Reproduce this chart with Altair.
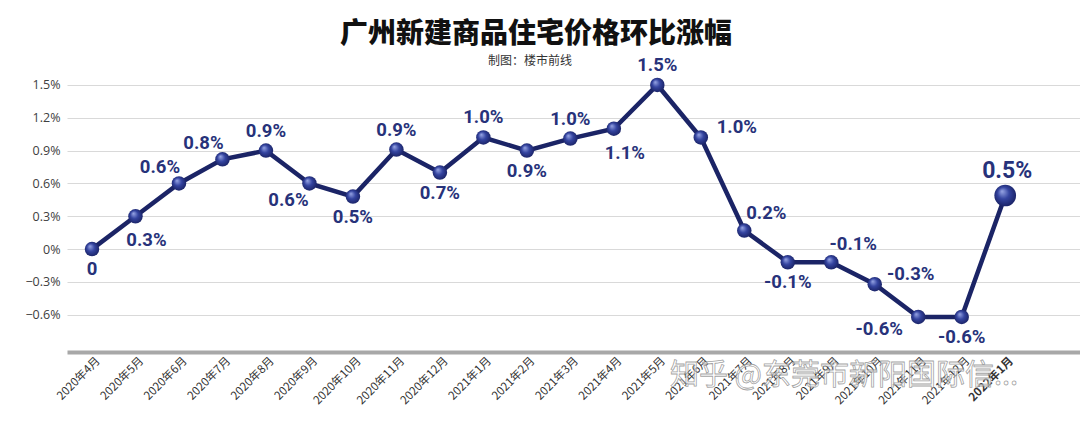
import altair as alt
import pandas as pd

months = ["2020年4月", "2020年5月", "2020年6月", "2020年7月", "2020年8月", "2020年9月",
          "2020年10月", "2020年11月", "2020年12月", "2021年1月", "2021年2月", "2021年3月",
          "2021年4月", "2021年5月", "2021年6月", "2021年7月", "2021年8月", "2021年9月",
          "2021年10月", "2021年11月", "2021年12月", "2022年1月"]
values = [0, 0.3, 0.6, 0.82, 0.9, 0.6, 0.48, 0.91, 0.7, 1.02, 0.9, 1.01,
          1.1, 1.5, 1.02, 0.17, -0.12, -0.12, -0.32, -0.62, -0.62, 0.49]
labels = ["0", "0.3%", "0.6%", "0.8%", "0.9%", "0.6%", "0.5%", "0.9%", "0.7%", "1.0%", "0.9%", "1.0%",
          "1.1%", "1.5%", "1.0%", "0.2%", "-0.1%", "-0.1%", "-0.3%", "-0.6%", "-0.6%", "0.5%"]
placement = ["below", "belowright", "aboveleft", "aboveleft", "above", "belowleft", "below", "above",
             "below", "above", "below", "above", "belowright", "above", "right", "aboveright",
             "below", "aboveright", "right", "left", "below", "big"]
y_ticks = [-0.6, -0.3, 0, 0.3, 0.6, 0.9, 1.2, 1.5]
title_text = "广州新建商品住宅价格环比涨幅"
subtitle_text = "制图：楼市前线"
watermark_text = "知乎 @东莞市新阳国际信..."

df = pd.DataFrame({
    "i": list(range(len(months))),
    "month": months,
    "value": values,
    "label": labels,
    "place": placement,
})

NAVY = "#1b2466"
LABEL = "#27327a"
offsets = {
    "above": (0, -20), "below": (0, 20), "aboveleft": (-19, -16), "belowleft": (-21, 17),
    "belowright": (11, 24), "aboveright": (22, -18), "right": (36, -10), "left": (-39, 12),
    "big": (2, -24),
}

month_js = "[" + ",".join("'" + m + "'" for m in months) + "]"

x_enc = alt.X("i:Q",
              scale=alt.Scale(domain=[-0.575, 22.72], nice=False, zero=False),
              axis=alt.Axis(values=list(range(len(months))), tickCount=40,
                            labelExpr=month_js + "[datum.value]",
                            labelAngle=-45, labelAlign="right", labelBaseline="middle",
                            labelFontSize=11.5, labelColor="#333333", labelFont="Noto Sans CJK SC",
                            labelFontWeight=alt.expr("datum.value == 21 ? 'bold' : 'normal'"),
                            labelOverlap=False, labelPadding=7, labelOffset=6,
                            ticks=False, grid=False,
                            domainColor="#a8a8a8", domainWidth=4, title=None))
y_enc = alt.Y("value:Q",
              scale=alt.Scale(domain=[-0.94, 1.6], nice=False, zero=False),
              axis=alt.Axis(values=y_ticks, tickCount=20,
                            labelExpr="datum.value == 0 ? '0%' : format(datum.value/100, '.1%')",
                            labelFontSize=12.5, labelColor="#404040", labelFont="Open Sans",
                            labelOverlap=False, labelPadding=7, ticks=False, domain=False,
                            gridColor="#d9d9d9", gridWidth=1.2, title=None))

base = alt.Chart(df)

line = base.mark_line(color=NAVY, strokeWidth=4.5).encode(x=x_enc, y=y_enc)

sphere = alt.RadialGradient(
    gradient="radial",
    stops=[alt.GradientStop(offset=0, color="#9aa8e6"),
           alt.GradientStop(offset=0.45, color="#3444a0"),
           alt.GradientStop(offset=1, color="#141b58")],
    x1=0.35, y1=0.3, r1=0, x2=0.5, y2=0.5, r2=0.6)

pts = base.transform_filter("datum.i < 21").mark_point(
    shape="circle", filled=True, fill=sphere, size=210, opacity=1, strokeWidth=0
).encode(x="i:Q", y="value:Q")
pt_big = base.transform_filter("datum.i == 21").mark_point(
    shape="circle", filled=True, fill=sphere, size=470, opacity=1, strokeWidth=0
).encode(x="i:Q", y="value:Q")

text_layers = []
for name, (dx, dy) in offsets.items():
    fs = 23 if name == "big" else 18.5
    text_layers.append(
        base.transform_filter(alt.datum.place == name).mark_text(
            dx=dx, dy=dy, fontSize=fs, fontWeight="bold", font="Roboto",
            color=LABEL, align="center", baseline="middle"
        ).encode(x="i:Q", y="value:Q", text="label:N")
    )

title = alt.Chart(pd.DataFrame({"t": [title_text]})).mark_text(
    fontSize=28, font="Noto Sans CJK SC", fontWeight=900, color="#111111",
    align="center", baseline="middle"
).encode(x=alt.value(469), y=alt.value(-39), text="t:N")
subtitle = alt.Chart(pd.DataFrame({"t": [subtitle_text]})).mark_text(
    fontSize=12, font="Noto Sans CJK SC", color="#333333",
    align="center", baseline="middle"
).encode(x=alt.value(463), y=alt.value(-13), text="t:N")

watermark = alt.Chart(pd.DataFrame({"t": [watermark_text]})).mark_text(
    fontSize=29, font="Noto Sans CJK SC", fill="white", fillOpacity=0.55,
    stroke="#8a8a8a", strokeWidth=0.8, strokeOpacity=0.8, align="left", baseline="middle"
).encode(x=alt.value(603), y=alt.value(302), text="t:N")

chart = alt.layer(line, pts, pt_big, *text_layers, title, subtitle, watermark).properties(
    width=1013, height=278,
    padding={"left": 67, "top": 74, "right": 0, "bottom": 70},
    autosize=alt.AutoSizeParams(type="none"),
    background="white",
).configure_view(stroke=None)

chart.save("out.html", embed_options={"renderer": "svg", "actions": False})
